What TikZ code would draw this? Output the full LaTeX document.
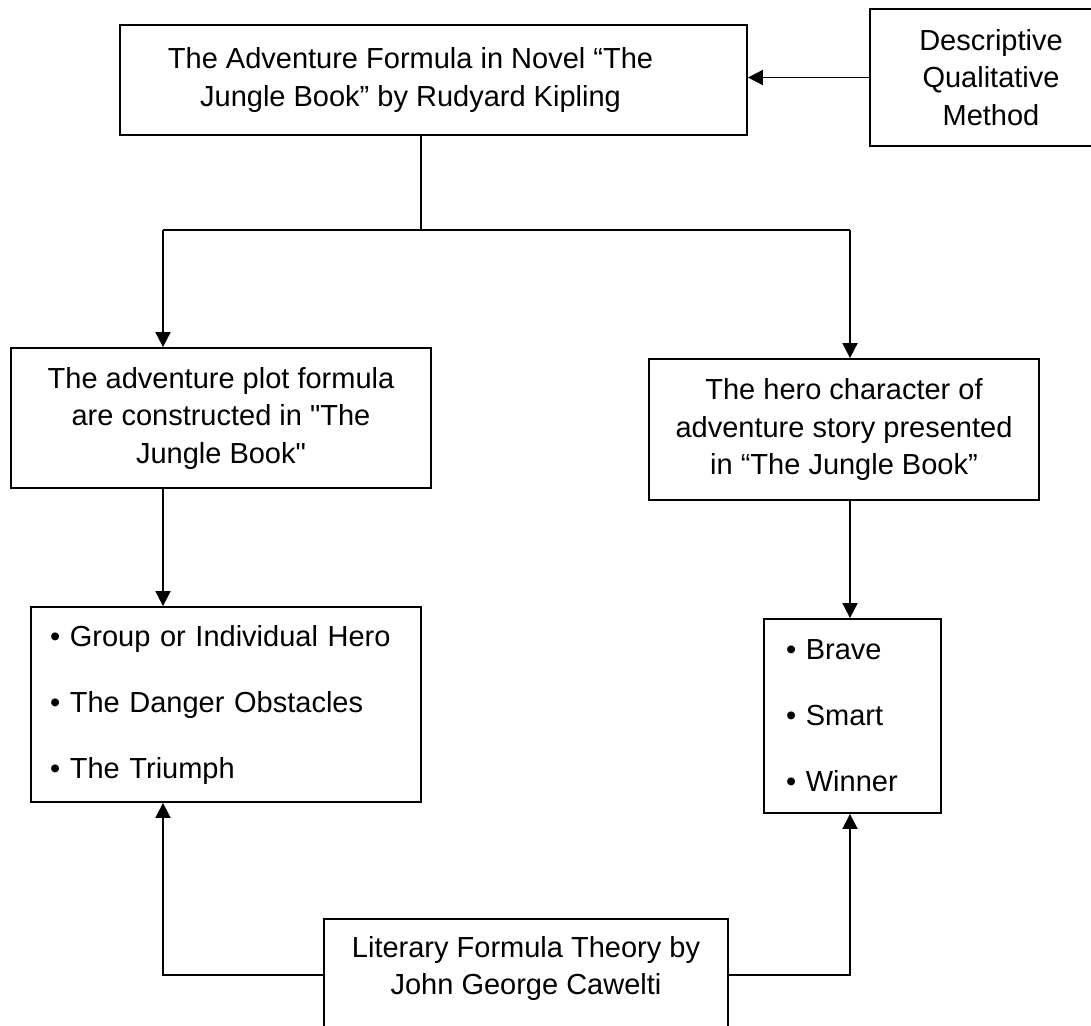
\documentclass[tikz,border=0pt]{standalone}
\usepackage{fontspec}
\setmainfont{Liberation Sans}
\usetikzlibrary{arrows.meta}
\tikzstyle{box}=[rectangle, draw, line width=0.9pt, align=center, inner sep=0pt, font=\fontsize{14.5}{18.75}\selectfont]
\tikzstyle{listbox}=[rectangle, draw, line width=0.9pt, align=left, inner ysep=0pt, font=\fontsize{14.5}{33}\selectfont]
\tikzstyle{arr}=[-{Triangle[length=7.5pt, width=7.5pt]}, line width=0.9pt]

\begin{document}
\begin{tikzpicture}[x=0.5pt, y=-0.5pt, line width=0.8pt]
                \useasboundingbox (0,0) rectangle (1091,1025);
                \clip (0,0) rectangle (1091,1025);
                \node[box, minimum width=313.5pt, minimum height=55pt] (title) at (433.5, 80) {The Adventure Formula in Novel “The\hspace*{23pt}\\Jungle Book” by Rudyard Kipling\hspace*{23pt}};
                \node[box, minimum width=121pt, minimum height=68.5pt] (method) at (991, 77.5) {Descriptive\\Qualitative\\Method};
                \node[box, minimum width=210pt, minimum height=70pt] (plot) at (221, 418) {The adventure plot formula\\are constructed in \textquotedbl The\\Jungle Book\textquotedbl};
                \node[box, minimum width=195pt, minimum height=70.5pt] (hero) at (844, 429.5) {The hero character of\\adventure story presented\\in “The Jungle Book”};
                \node[listbox, text width=176pt, inner xsep=9.5pt, minimum height=97.5pt] (plotlist) at (226, 704.5) {\textbullet\ Group or Individual Hero\\\textbullet\ The Danger Obstacles\\\textbullet\ The Triumph};
                \node[listbox, text width=66.5pt, inner xsep=11pt, minimum height=97pt] (herolist) at (852.5, 716) {\textbullet\ Brave\\\textbullet\ Smart\\\textbullet\ Winner};
                \node[box, minimum width=202pt, minimum height=71pt] (theory) at (526, 990) {Literary Formula Theory by\\John George Cawelti\\\strut};
                \coordinate (split) at (421, 230);
                \coordinate (jl) at (163, 230);
                \coordinate (jr) at (850, 230);
                \draw[arr] (method.west) -- (method.west -| title.east);
                \draw (title.south -| split) -- (split);
                \draw (jl) -- (jr);
                \draw[arr] (jl) -- (jl |- plot.north);
                \draw[arr] (jr) -- (jr |- hero.north);
                \draw[arr] (plot.south -| jl) -- (plotlist.north -| jl);
                \draw[arr] (hero.south -| jr) -- (herolist.north -| jr);
                \draw[arr] ([yshift=7.5pt]theory.west) -| (plotlist.south -| jl);
                \draw[arr] ([yshift=7.5pt]theory.east) -| (herolist.south -| jr);
            \end{tikzpicture}
\end{document}
